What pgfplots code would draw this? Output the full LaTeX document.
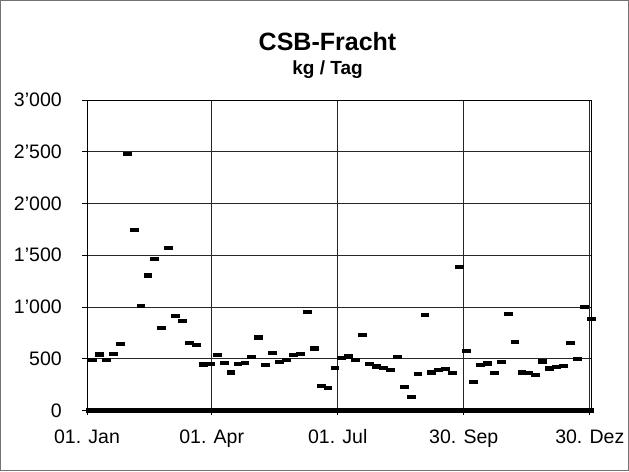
\documentclass[border=0pt]{standalone}
\usepackage{fontspec}
\setmainfont{Liberation Sans}
\usepackage{pgfplots}
\pgfplotsset{compat=1.18}
\usetikzlibrary{calc}

\pgfplotstableread{
day val
4 490
9 540
14 490
19 543
24 641
29 2482
34 1744
39 1013
44 1304
49 1463
54 796
59 1573
64 916
69 861
74 654
79 634
84 443
89 450
94 537
99 456
104 366
109 447
114 456
119 515
124 705
129 437
134 557
139 466
144 489
149 537
154 544
159 948
164 599
169 233
174 214
179 408
184 505
189 521
194 489
199 728
204 450
209 424
214 408
219 392
224 518
229 230
234 126
239 353
244 919
249 366
254 392
259 401
264 362
269 1388
274 576
279 278
284 440
289 453
294 362
299 466
304 932
309 663
314 366
319 359
324 340
329 472
334 405
339 417
344 430
349 650
354 498
359 1000
364 887
}\csbdata

\begin{document}
\begin{tikzpicture}
\begin{axis}[
  scale only axis, width=502bp, height=309bp,
  xmin=0, xmax=364, ymin=0, ymax=3000,
  xtick={0,90,181,272,363},
  xticklabels={01. Jan,01. Apr,01. Jul,30. Sep,30. Dez},
  ytick={0,500,...,3000},
  /pgf/number format/assume math mode=true,
  /pgf/number format/1000 sep={’},
  tick label style={font=\fontsize{19.5}{22}\selectfont},
  yticklabel style={anchor=east, inner sep=0pt, xshift=-20bp},
  xticklabel style={anchor=base, inner sep=0pt, yshift=-28bp},
  tick align=outside, major tick length=5bp,
  tick style={black, line width=0.8bp},
  xtick pos=bottom, ytick pos=left,
  grid=major, major grid style={black!85, line width=0.8bp},
  axis line style={black, line width=0.9bp},
  clip=false,
]
\addplot[black, line width=4.5bp] coordinates {(-0.5,0) (366,0)};
\addplot[only marks, mark=-, mark size=4.4bp, mark options={line width=4.2bp, black}] table[x=day, y=val] {\csbdata};
\coordinate (sw) at (rel axis cs:0,0);
\coordinate (ne) at (rel axis cs:1,1);
\node[anchor=base, font=\bfseries\fontsize{25}{30}\selectfont] at (rel axis cs:0.477,1) [yshift=49bp] {CSB-Fracht};
\node[anchor=base, font=\bfseries\fontsize{19}{22}\selectfont] at (rel axis cs:0.477,1) [yshift=25bp] {kg / Tag};
\end{axis}
\draw[black!55, line width=1.3bp] ($(sw)+(-86bp,-60bp)$) rectangle ($(ne)+(37bp,99bp)$);
\end{tikzpicture}
\end{document}
